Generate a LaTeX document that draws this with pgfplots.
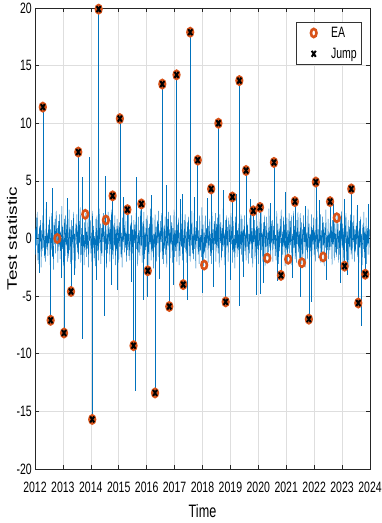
\documentclass[border=0pt]{standalone}
\usepackage{fontspec}
\setmainfont{Liberation Sans}[FakeStretch=0.7]
\newfontfamily\labelfont{Liberation Sans}
\usepackage{graphicx}
\usepackage{pgfplots}
\usepackage{pgfplotstable}
\pgfplotsset{compat=1.18}

\definecolor{mblue}{rgb}{0,0.447,0.741}
\definecolor{morange}{rgb}{0.85,0.325,0.098}

% daily-ish test statistic, one value every 0.02 year from 2012
\pgfplotstableread[row sep=\\, header=false]{
0.9\\ -1.4\\ 1.8\\ -0.6\\ 2.3\\ -1.9\\ 0.4\\ -2.2\\ 1.1\\ -0.3\\ 1.6\\ -2.5\\ 0.7\\ -1.1\\ 2.0\\ -0.8\\ 1.3\\ -1.7\\ 0.2\\ -2.0\\ 2.6\\ -0.9\\ 0.5\\ -1.5\\ 1.2\\
-0.4\\ 1.9\\ -2.3\\ 0.8\\ -1.0\\ 2.2\\ -1.6\\ 0.3\\ -2.7\\ 1.4\\ -0.5\\ 1.7\\ -1.3\\ 2.4\\ -0.2\\ 0.9\\ -2.1\\ 1.5\\ -0.7\\ 2.1\\ -1.8\\ 0.6\\ -1.2\\ 2.8\\ -0.9\\
1.0\\ -2.4\\ 0.3\\ 1.7\\ -1.5\\ 2.0\\ -0.6\\ 1.2\\ -2.0\\ 0.5\\ -1.7\\ 2.5\\ -1.0\\ 0.8\\ -2.2\\ 1.6\\ -0.3\\ 1.1\\ -1.9\\ 2.3\\ -0.8\\ 0.4\\ -2.6\\ 1.3\\ -0.5\\
2.1\\ -1.2\\ 0.7\\ -1.8\\ 1.5\\ -0.4\\ 2.7\\ -2.1\\ 0.9\\ -1.4\\ 1.9\\ -0.7\\ 0.3\\ -2.3\\ 1.4\\ -1.0\\ 2.2\\ -1.6\\ 0.6\\ -0.9\\ 1.8\\ -2.5\\ 1.0\\ -0.2\\ 1.6\\
-1.3\\ 0.5\\ -2.0\\ 2.4\\ -0.8\\ 1.1\\ -1.7\\ 0.2\\ -2.4\\ 1.7\\ -0.6\\ 2.0\\ -1.1\\ 0.7\\ -1.9\\ 2.6\\ -0.4\\ 1.3\\ -2.2\\ 0.9\\ -1.5\\ 1.5\\ -0.3\\ 2.2\\ -1.8\\
0.6\\ -1.0\\ 1.9\\ -2.6\\ 0.4\\ -1.3\\ 2.3\\ -0.5\\ 1.0\\ -2.0\\ 1.6\\ -0.9\\ 2.5\\ -1.4\\ 0.3\\ -1.8\\ 1.2\\ -0.6\\ 2.0\\ -2.3\\ 0.8\\ -1.1\\ 1.7\\ -0.4\\ 1.1\\
-2.1\\ 1.4\\ -0.7\\ 2.1\\ -1.6\\ 0.5\\ -2.5\\ 1.8\\ -0.3\\ 1.0\\ -1.2\\ 2.4\\ -0.8\\ 0.6\\ -2.0\\ 1.5\\ -1.0\\ 2.7\\ -1.5\\ 0.4\\ -1.9\\ 1.3\\ -0.5\\ 2.0\\ -1.3\\
0.8\\ -2.2\\ 1.6\\ -0.4\\ 1.2\\ -1.7\\ 2.2\\ -0.9\\ 0.3\\ -2.4\\ 1.9\\ -1.2\\ 0.7\\ -1.5\\ 2.5\\ -0.6\\ 1.1\\ -2.1\\ 1.4\\ -0.2\\ 2.3\\ -1.8\\ 0.5\\ -1.0\\ 1.7\\
-0.7\\ 2.0\\ -1.4\\ 0.9\\ -2.3\\ 1.3\\ -0.5\\ 2.6\\ -1.9\\ 0.6\\ -1.1\\ 1.8\\ -2.6\\ 0.4\\ -0.8\\ 2.1\\ -1.3\\ 1.0\\ -2.0\\ 1.6\\ -0.4\\ 2.4\\ -1.6\\ 0.7\\ -1.2\\
1.5\\ -0.3\\ 2.2\\ -1.8\\ 0.6\\ -2.2\\ 1.1\\ -0.9\\ 1.9\\ -1.4\\ 0.2\\ -2.5\\ 1.7\\ -0.6\\ 2.3\\ -1.0\\ 0.8\\ -1.7\\ 2.0\\ -0.5\\ 1.4\\ -2.1\\ 0.9\\ -1.3\\ 2.5\\
-1.6\\ 0.7\\ -1.1\\ 2.3\\ -2.0\\ 1.2\\ -0.4\\ 1.8\\ -2.3\\ 0.5\\ -1.5\\ 2.6\\ -0.7\\ 1.3\\ -1.9\\ 0.3\\ -2.4\\ 1.6\\ -0.8\\ 2.1\\ -1.2\\ 0.6\\ -2.1\\ 1.4\\ -0.3\\
1.9\\ -1.5\\ 0.8\\ -2.0\\ 1.3\\ -0.6\\ 2.4\\ -1.3\\ 0.4\\ -1.8\\ 2.2\\ -0.9\\ 1.0\\ -2.6\\ 1.5\\ -0.2\\ 1.8\\ -1.4\\ 0.7\\ -2.2\\ 2.0\\ -1.1\\ 0.3\\ -1.6\\ 2.7\\
-0.9\\ 1.2\\ -2.4\\ 0.5\\ -1.2\\ 2.0\\ -1.7\\ 0.9\\ -0.4\\ 2.5\\ -2.1\\ 1.1\\ -0.6\\ 1.7\\ -1.5\\ 0.4\\ -2.2\\ 2.3\\ -1.0\\ 0.8\\ -1.8\\ 1.5\\ -0.5\\ 2.2\\ -2.0\\
1.3\\ -0.8\\ 1.8\\ -1.3\\ 0.6\\ -2.5\\ 2.1\\ -0.4\\ 1.4\\ -1.9\\ 0.9\\ -1.1\\ 2.6\\ -0.7\\ 0.5\\ -2.3\\ 1.6\\ -1.4\\ 2.0\\ -0.6\\ 1.0\\ -2.0\\ 1.8\\ -0.3\\ 1.2\\
-1.7\\ 2.2\\ -0.5\\ 1.0\\ -2.1\\ 1.5\\ -1.2\\ 0.3\\ -2.6\\ 1.9\\ -0.8\\ 2.4\\ -1.6\\ 0.7\\ -1.0\\ 1.3\\ -2.3\\ 0.6\\ -0.9\\ 2.1\\ -1.4\\ 1.7\\ -2.0\\ 0.8\\ -0.6\\
2.0\\ -1.1\\ 0.5\\ -1.9\\ 2.5\\ -0.7\\ 1.2\\ -2.2\\ 0.4\\ -1.3\\ 1.8\\ -0.5\\ 2.2\\ -1.7\\ 0.9\\ -2.5\\ 1.4\\ -0.3\\ 1.6\\ -1.8\\ 0.7\\ -1.2\\ 2.3\\ -0.9\\ 1.1\\
-2.2\\ 0.9\\ -0.6\\ 1.7\\ -1.4\\ 2.3\\ -1.0\\ 0.6\\ -2.0\\ 1.4\\ -0.4\\ 2.0\\ -2.4\\ 1.1\\ -0.7\\ 1.9\\ -1.6\\ 0.5\\ -1.2\\ 2.6\\ -0.8\\ 1.0\\ -1.9\\ 1.5\\ -0.4\\
1.6\\ -2.0\\ 1.1\\ -0.5\\ 2.1\\ -1.5\\ 0.3\\ -1.9\\ 2.4\\ -0.9\\ 1.3\\ -2.2\\ 0.8\\ -1.1\\ 1.7\\ -0.4\\ 2.5\\ -1.7\\ 0.6\\ -1.4\\ 1.9\\ -0.7\\ 1.2\\ -2.4\\ 0.9\\
-1.0\\ 1.8\\ -2.1\\ 0.7\\ -0.9\\ 2.2\\ -1.3\\ 1.5\\ -0.6\\ 2.0\\ -2.3\\ 0.4\\ -1.5\\ 2.4\\ -0.8\\ 1.1\\ -1.8\\ 0.9\\ -2.1\\ 1.6\\ -0.5\\ 2.3\\ -1.2\\ 0.6\\ -1.7\\
2.2\\ -0.6\\ 1.4\\ -2.2\\ 0.8\\ -1.6\\ 2.0\\ -0.3\\ 1.0\\ -2.5\\ 1.5\\ -1.0\\ 0.5\\ -1.8\\ 2.6\\ -0.8\\ 1.3\\ -2.0\\ 0.4\\ -1.1\\ 2.1\\ -1.5\\ 0.9\\ -0.5\\ 1.8\\
-1.4\\ 0.6\\ -2.0\\ 1.7\\ -0.9\\ 2.4\\ -1.2\\ 0.8\\ -1.7\\ 1.2\\ -0.4\\ 2.1\\ -2.1\\ 0.7\\ -1.3\\ 1.9\\ -0.6\\ 1.4\\ -2.4\\ 1.0\\ -0.8\\ 2.5\\ -1.5\\ 0.3\\ -1.0\\
1.7\\ -1.8\\ 0.5\\ -1.0\\ 2.3\\ -0.7\\ 1.1\\ -2.3\\ 1.6\\ -0.5\\ 0.9\\ -1.9\\ 2.2\\ -1.2\\ 0.4\\ -1.6\\ 2.0\\ -0.9\\ 1.3\\ -2.1\\ 0.7\\ -1.4\\ 1.9\\ -0.6\\ 2.4\\
-0.8\\ 1.3\\ -2.2\\ 0.9\\ -1.5\\ 1.8\\ -0.4\\ 2.2\\ -1.9\\ 0.6\\ -1.1\\ 1.6\\ -2.5\\ 1.0\\ -0.7\\ 2.1\\ -1.4\\ 0.5\\ -1.8\\ 1.4\\ -0.3\\ 2.0\\ -2.0\\ 0.8\\ -1.2\\
1.1\\ -0.5\\ 2.5\\ -1.6\\ 0.7\\ -2.1\\ 1.5\\ -0.8\\ 1.9\\ -1.3\\ 0.4\\ -2.3\\ 1.2\\ -0.9\\ 2.3\\ -1.7\\ 0.6\\ -1.0\\ 1.8\\ -2.2\\ 0.9\\ -0.6\\ 1.6\\ -1.4\\ 0.8\\
}\noise

% isolated large values of the statistic
\pgfplotstableread{
x y
2012.14 -3.0
2012.28 11.4
2012.40 3.2
2012.56 -7.1
2012.61 4.4
2012.95 -3.4
2013.04 -8.2
2013.17 3.5
2013.29 -4.6
2013.42 -3.2
2013.55 7.5
2013.68 -8.7
2013.71 5.3
2013.93 7.1
2014.05 -15.7
2014.20 -3.6
2014.28 19.9
2014.49 -6.7
2014.51 5.4
2014.72 -4.0
2014.78 3.7
2014.94 -4.5
2015.04 10.4
2015.17 3.6
2015.31 2.5
2015.45 -3.8
2015.53 -9.3
2015.60 -13.2
2015.62 5.3
2015.81 3.0
2015.87 -5.3
2016.01 -5.1
2016.04 -2.8
2016.18 3.8
2016.30 -13.4
2016.45 -3.5
2016.56 13.4
2016.69 4.6
2016.81 -5.9
2016.94 -4.0
2017.07 14.2
2017.20 3.4
2017.28 3.9
2017.31 -4.0
2017.44 -5.3
2017.56 17.9
2017.70 3.6
2017.83 6.8
2017.98 -4.7
2018.18 3.5
2018.31 4.3
2018.38 -4.2
2018.57 10.0
2018.73 4.2
2018.83 -5.5
2018.98 -3.6
2019.07 3.6
2019.20 3.9
2019.31 -5.9
2019.32 13.7
2019.45 -3.3
2019.56 5.9
2019.70 3.4
2019.82 2.4
2019.93 -4.9
2020.06 2.7
2020.08 -4.8
2020.17 -3.9
2020.42 3.1
2020.56 6.6
2020.68 -3.7
2020.81 -3.2
2020.95 4.0
2021.20 -3.4
2021.31 3.2
2021.49 -5.1
2021.67 2.8
2021.81 -7.0
2021.88 -5.5
2022.06 4.9
2022.20 3.3
2022.45 -3.6
2022.57 3.2
2022.70 3.0
2022.95 -3.9
2023.07 3.4
2023.09 -2.4
2023.20 -3.2
2023.33 4.3
2023.53 2.9
2023.58 -5.6
2023.68 -7.6
2023.83 -3.1
2023.95 3.0
}\spikes

\pgfplotstableread{
x y
2012.28 11.4
2012.56 -7.1
2012.80 0.0
2013.04 -8.2
2013.29 -4.6
2013.55 7.5
2013.80 2.1
2014.05 -15.7
2014.28 19.9
2014.54 1.6
2014.78 3.7
2015.04 10.4
2015.31 2.5
2015.53 -9.3
2015.81 3.0
2016.04 -2.8
2016.30 -13.4
2016.56 13.4
2016.81 -5.9
2017.07 14.2
2017.31 -4.0
2017.56 17.9
2017.83 6.8
2018.06 -2.3
2018.31 4.3
2018.57 10.0
2018.83 -5.5
2019.07 3.6
2019.32 13.7
2019.56 5.9
2019.82 2.4
2020.06 2.7
2020.32 -1.7
2020.56 6.6
2020.81 -3.2
2021.07 -1.8
2021.31 3.2
2021.56 -2.1
2021.81 -7.0
2022.06 4.9
2022.32 -1.6
2022.57 3.2
2022.81 1.8
2023.09 -2.4
2023.33 4.3
2023.58 -5.6
2023.83 -3.1
}\ea

\pgfplotstableread{
x y
2012.28 11.4
2012.56 -7.1
2013.04 -8.2
2013.29 -4.6
2013.55 7.5
2014.05 -15.7
2014.28 19.9
2014.78 3.7
2015.04 10.4
2015.31 2.5
2015.53 -9.3
2015.81 3.0
2016.04 -2.8
2016.30 -13.4
2016.56 13.4
2016.81 -5.9
2017.07 14.2
2017.31 -4.0
2017.56 17.9
2017.83 6.8
2018.31 4.3
2018.57 10.0
2018.83 -5.5
2019.07 3.6
2019.32 13.7
2019.56 5.9
2019.82 2.4
2020.06 2.7
2020.56 6.6
2020.81 -3.2
2021.31 3.2
2021.81 -7.0
2022.06 4.9
2022.57 3.2
2023.09 -2.4
2023.33 4.3
2023.58 -5.6
2023.83 -3.1
}\jumps

\begin{document}
\begin{tikzpicture}
\begin{axis}[
  scale only axis, width=335pt, height=461pt,
  xmin=2012, xmax=2024, ymin=-20, ymax=20,
  xtick={2012,2013,...,2024}, ytick={-20,-15,...,20},
  /pgf/number format/1000 sep={},
  /pgf/number format/assume math mode=true,
  tick label style={font=\fontsize{15}{15}\selectfont},
  xticklabel style={anchor=north, inner sep=0pt, yshift=-13pt},
  yticklabel style={anchor=east, inner sep=0pt, xshift=-3pt},
  tick align=inside, major tick length=4pt,
  xtick pos=both, ytick pos=both,
  xticklabel pos=bottom, yticklabel pos=left,
  grid=major, grid style={color=black!13, line width=0.5pt},
  axis line style={color=black!85, line width=0.6pt},
  every tick/.style={color=black!85, line width=0.6pt},
  xlabel={Time},
  ylabel={\labelfont\fontsize{19}{19}\selectfont\scalebox{1}[0.72]{Test statistic}},
  every axis x label/.style={at={([yshift=-42pt]axis description cs:0.5,0)}, anchor=center, font=\fontsize{18}{18}\selectfont},
  every axis y label/.style={at={([xshift=-23pt]axis description cs:0,0.5)}, anchor=center, rotate=90},
  legend image code/.code={
    \path (0pt,-5pt) (22pt,5pt);
    \draw[#1] plot coordinates {(12pt,0pt)};
  },
  legend style={at={(0.976,0.970)}, anchor=north east, draw=black!80, line width=0.5pt,
    fill=white, font=\fontsize{15}{15}\selectfont, inner xsep=4pt, inner ysep=4pt,
    row sep=7pt, nodes={inner sep=1pt},
    /tikz/every odd column/.append style={column sep=5pt}},
  legend cell align=left,
]
\coordinate (ll) at (rel axis cs:0,0);
\coordinate (ur) at (rel axis cs:1,1);
\addplot[mblue, line width=0.4pt, forget plot] table[x expr=2012+\coordindex*0.02, y index=0] {\noise};
\addplot[mblue, line width=0.6pt, ycomb, forget plot] table[x=x, y=y] {\spikes};
\addplot[only marks, mark=o, color=morange, line width=2.6pt, mark size=4.1pt,
  mark options={xscale=0.68}] table[x=x, y=y] {\ea};
\addlegendentry{EA}
\addplot[only marks, mark=x, color=black, line width=2pt, mark size=4.2pt,
  mark options={xscale=0.68}] table[x=x, y=y] {\jumps};
\addlegendentry{Jump}
\end{axis}
\pgfresetboundingbox
\useasboundingbox ([shift={(-35pt,-54pt)}]ll) rectangle ([shift={(11pt,8pt)}]ur);
\end{tikzpicture}
\end{document}
